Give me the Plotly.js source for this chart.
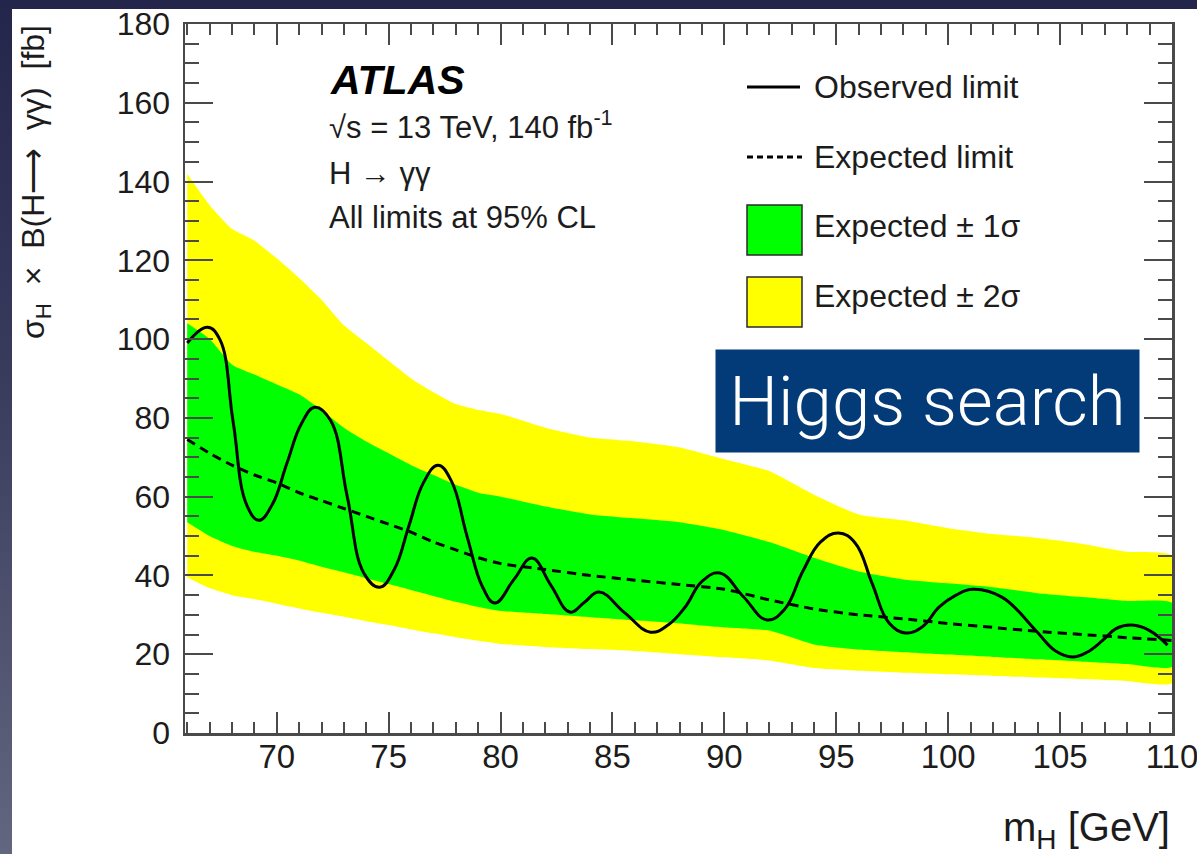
<!DOCTYPE html>
<html>
<head>
<meta charset="utf-8">
<script src="https://cdn.plot.ly/plotly-3.0.1.min.js"></script>
<style>
  html, body { margin: 0; padding: 0; width: 1197px; height: 854px; overflow: hidden; }
  body { background: linear-gradient(to bottom, #24254a 0%, #3a3c5e 45%, #63667f 100%); position: relative; }
  #sheet { position: absolute; left: 12px; top: 9px; right: 0; bottom: 0; background: #ffffff; }
  #chart { position: absolute; left: 0; top: 0; width: 1197px; height: 854px; }
</style>
</head>
<body>
<div id="sheet"></div>
<div id="chart"></div>
<script>
// Diphoton resonance search: 95% CL upper limits on sigma x BR(H -> gamma gamma)
const mass = [66, 67, 68, 69, 70, 71, 72, 73, 74, 75, 76, 77, 78, 79, 80,
              82, 84, 86, 88, 90, 92, 94, 96, 98, 100, 102, 104, 106, 108, 110];

const band2Hi = [142, 134, 128, 125, 120.5, 115.5, 110, 103.5, 99, 94.5, 90, 86.5, 83.5, 82, 81,
                 77.5, 75, 74, 72.5, 69.5, 66.5, 60.5, 55.5, 54, 52, 50.5, 49.5, 48, 46, 45];
const band1Hi = [104, 100, 93.5, 91, 88.5, 86, 82, 77.5, 74, 71, 68, 65.5, 63, 61, 60,
                 57.5, 55.5, 54.5, 53.5, 51.5, 48.5, 44.5, 41, 39, 38, 37, 35.5, 34.5, 33.5, 33];
const expected = [74.5, 71, 68, 65.5, 63.5, 61, 59, 57, 55, 53, 51, 48.5, 46.5, 44.5, 43,
                  41.5, 40, 38.8, 37.7, 36.5, 33.8, 31.5, 30, 29, 27.8, 26.8, 25.8, 25, 24.2, 23.5];
const band1Lo = [53.5, 50, 47.5, 46, 45, 43.8, 42.2, 40.8, 39.3, 37.8, 36.3, 34.8, 33.3, 32, 31,
                 30.2, 29.4, 28.6, 27.8, 26.8, 26, 22.5, 21.2, 20.5, 19.9, 19.3, 18.7, 18.1, 17.5, 16.8];
const band2Lo = [39.5, 36.8, 35, 34, 32.8, 31.6, 30.5, 29.5, 28.4, 27.4, 26.3, 25.3, 24.3, 23.4, 22.6,
                 21.8, 21.3, 20.8, 20, 19.2, 18.4, 16.5, 15.8, 15.3, 14.9, 14.5, 14.1, 13.7, 13.2, 12.7];

const obsMass  = [66, 66.9, 67.45, 68.05, 68.65, 69.2, 69.8, 70.45, 71.1, 71.7, 72.4, 73.15, 73.9,
                  74.6, 75.25, 75.9, 76.55, 77.2, 77.8, 78.5, 79.2, 79.75, 80.6, 81.4, 82.25,
                  83.1, 83.75, 84.4, 85.55, 86.7, 87.5, 88.25, 89.0, 89.8, 90.85, 91.9, 92.7,
                  93.5, 94.3, 95.1, 95.85, 96.6, 97.35, 98.1, 98.85, 99.6, 100.35, 101.1, 102.4,
                  103.9, 104.8, 105.55, 106.2, 106.9, 107.5, 108.2, 109.0, 109.8];
const obsLimit = [99, 103, 100, 79, 58, 54, 58, 68.4, 78.5, 82.7, 79.4, 60, 40.5,
                  37, 41.5, 52.5, 63.5, 68, 64, 50, 37, 33, 39, 44.4, 37.5,
                  30.7, 33.2, 35.8, 30.5, 25.6, 27.5, 32, 38.5, 40.6, 34.6, 28.7, 31.5,
                  41, 48.5, 50.8, 48.2, 38, 28, 25.4, 27, 32, 35, 36.5, 34.5,
                  26.1, 20.8, 19.3, 20.5, 23.5, 26.5, 27.4, 26, 22.3];

const xTicks = [70, 75, 80, 85, 90, 95, 100, 105, 110];
const yTicks = [0, 20, 40, 60, 80, 100, 120, 140, 160, 180];

const legendLabels = ['Observed limit', 'Expected limit', 'Expected \u00b1 1\u03c3', 'Expected \u00b1 2\u03c3'];
const infoLines = ['\u221As = 13 TeV, 140 fb<sup>-1</sup>', 'H \u2192 \u03b3\u03b3', 'All limits at 95% CL'];

const YELLOW = '#ffff00';
const GREEN = '#00ff00';
const INK = '#1c1c1c';
const FONT = 'Liberation Sans, Arial, Helvetica, sans-serif';

// frame geometry (pixels)
const W = 1197, H = 854;
const M = { l: 185, r: 25, t: 24, b: 121 };
const PW = W - M.l - M.r, PH = H - M.t - M.b;
const px = v => (v - M.l) / PW;          // page x -> paper x
const py = v => (H - M.b - v) / PH;      // page y -> paper y

function ring(xs, hi, lo) {
  return { x: xs.concat(xs.slice().reverse()), y: hi.concat(lo.slice().reverse()) };
}
const outer = ring(mass, band2Hi, band2Lo);
const inner = ring(mass, band1Hi, band1Lo);

const traces = [
  { type: 'scatter', mode: 'lines', x: outer.x, y: outer.y, fill: 'toself', fillcolor: YELLOW,
    line: { width: 0, color: YELLOW, shape: 'spline', smoothing: 0.5 }, name: legendLabels[3], hoverinfo: 'skip' },
  { type: 'scatter', mode: 'lines', x: inner.x, y: inner.y, fill: 'toself', fillcolor: GREEN,
    line: { width: 0, color: GREEN, shape: 'spline', smoothing: 0.5 }, name: legendLabels[2], hoverinfo: 'skip' },
  { type: 'scatter', mode: 'lines', x: mass, y: expected, name: legendLabels[1],
    line: { color: '#000', width: 3, dash: '9px,6px', shape: 'spline', smoothing: 0.6 } },
  { type: 'scatter', mode: 'lines', x: obsMass, y: obsLimit, name: legendLabels[0],
    line: { color: '#000', width: 3, shape: 'spline', smoothing: 1.2 } }
];

const axisCommon = {
  showline: true, linecolor: '#4a4a4a', linewidth: 2.5, mirror: 'ticks',
  ticks: 'inside', tickcolor: '#4a4a4a', tickwidth: 2,
  showgrid: false, zeroline: false, ticklabeloverflow: 'allow',
  tickfont: { family: FONT, size: 32, color: INK }
};

const shapes = [];
const annotations = [];

// legend keys
const keyX0 = 747, keyX1 = 802;
shapes.push({ type: 'line', xref: 'paper', yref: 'paper', x0: px(keyX0), x1: px(800), y0: py(87), y1: py(87),
              line: { color: '#000', width: 3 } });
shapes.push({ type: 'line', xref: 'paper', yref: 'paper', x0: px(keyX0), x1: px(keyX1), y0: py(157), y1: py(157),
              line: { color: '#000', width: 3, dash: '6px,4px' } });
shapes.push({ type: 'rect', xref: 'paper', yref: 'paper', x0: px(keyX0), x1: px(keyX1), y0: py(205), y1: py(255),
              fillcolor: GREEN, line: { color: '#2a2a2a', width: 1.5 } });
shapes.push({ type: 'rect', xref: 'paper', yref: 'paper', x0: px(keyX0), x1: px(keyX1), y0: py(277), y1: py(327),
              fillcolor: YELLOW, line: { color: '#2a2a2a', width: 1.5 } });
const legendY = [87, 157, 226, 296];
legendLabels.forEach((t, i) => {
  annotations.push({ text: t, xref: 'paper', yref: 'paper', x: px(812), y: py(legendY[i]),
    xanchor: 'left', yanchor: 'middle', showarrow: false,
    font: { family: FONT, size: 32, color: INK } });
});

// experiment label block
annotations.push({ text: '<b><i>ATLAS</i></b>', xref: 'paper', yref: 'paper', x: px(328), y: py(80),
  xanchor: 'left', yanchor: 'middle', showarrow: false, font: { family: FONT, size: 41, color: '#000' } });
const infoY = [125, 173, 217.5];
infoLines.forEach((t, i) => {
  annotations.push({ text: t, xref: 'paper', yref: 'paper', x: px(327), y: py(infoY[i]),
    xanchor: 'left', yanchor: 'middle', showarrow: false, font: { family: FONT, size: 31, color: INK } });
});

// axis titles
annotations.push({ text: '\u03c3<sub>H</sub>  \u00d7  B(H\u27f6  \u03b3\u03b3)  [fb]', xref: 'paper', yref: 'paper',
  x: px(35), y: py(23), xanchor: 'center', yanchor: 'top', textangle: -90, showarrow: false,
  font: { family: FONT, size: 32, color: INK } });
annotations.push({ text: 'm<sub>H</sub> [GeV]', xref: 'paper', yref: 'paper',
  x: 1, y: py(830), xanchor: 'right', yanchor: 'middle', showarrow: false,
  font: { family: FONT, size: 40, color: INK } });

// title banner
annotations.push({ text: 'Higgs search', xref: 'paper', yref: 'paper',
  x: px(927.5), y: py(401), xanchor: 'center', yanchor: 'middle', showarrow: false,
  width: 423, height: 102, borderpad: 0, bgcolor: '#033a78',
  font: { family: 'Helvetica Neue, Roboto, Liberation Sans, sans-serif', size: 69, weight: 300, color: '#ffffff' } });

const layout = {
  width: W, height: H,
  margin: M,
  paper_bgcolor: 'rgba(0,0,0,0)',
  plot_bgcolor: '#ffffff',
  showlegend: false,
  xaxis: Object.assign({}, axisCommon, {
    range: [65.9, 110], tickvals: xTicks, ticktext: xTicks.map(String), ticklen: 21,
    ticklabelstandoff: -7,
    tickfont: { family: FONT, size: 33, color: INK },
    minor: { dtick: 1, tick0: 0, ticks: 'inside', ticklen: 11, tickwidth: 2, tickcolor: '#4a4a4a' }
  }),
  yaxis: Object.assign({}, axisCommon, {
    range: [0, 180], tickvals: yTicks, ticktext: yTicks.map(String), ticklen: 28,
    ticklabelstandoff: 6,
    minor: { dtick: 5, tick0: 0, ticks: 'inside', ticklen: 14, tickwidth: 2, tickcolor: '#4a4a4a' }
  }),
  shapes: shapes,
  annotations: annotations
};

Plotly.newPlot('chart', traces, layout, { staticPlot: true });
</script>
</body>
</html>
